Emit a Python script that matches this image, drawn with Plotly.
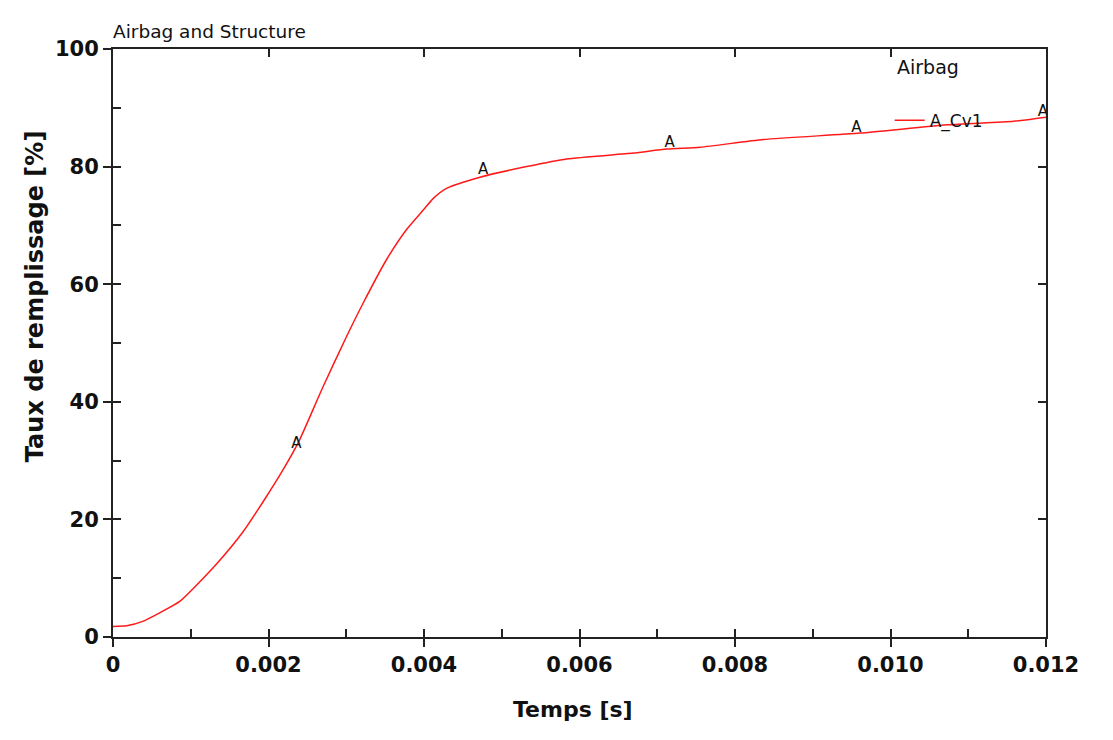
import plotly.graph_objects as go

# ---- data ----
time_s = [0, 0.000176, 0.000382, 0.000600, 0.000858, 0.001073, 0.001331, 0.001673,
          0.001974, 0.002188, 0.002381, 0.002703, 0.003004, 0.003218, 0.003519,
          0.003776, 0.00399, 0.00412, 0.00429, 0.00472, 0.00532, 0.005835,
          0.006692, 0.007122, 0.007551, 0.008366, 0.00961, 0.010726, 0.011583, 0.012]
fill_pct = [1.8, 1.9, 2.65, 4.1, 6.05, 8.8, 12.4, 17.9,
            23.9, 28.45, 33.0, 42.6, 51.1, 56.8, 64.2,
            69.3, 72.6, 74.6, 76.3, 78.2, 80.0, 81.3,
            82.3, 83.0, 83.3, 84.6, 85.7, 87.1, 87.7, 88.4]

label_x = [0.00236, 0.00476, 0.00716, 0.00956, 0.01196]
label_y = [32.7, 79.4, 84.0, 86.6, 89.3]
label_txt = ["A", "A", "A", "A", "A"]

x_ticks = [0, 0.002, 0.004, 0.006, 0.008, 0.010, 0.012]
x_ticktext = ["0", "0.002", "0.004", "0.006", "0.008", "0.010", "0.012"]
y_ticks = [0, 20, 40, 60, 80, 100]
y_ticktext = ["0", "20", "40", "60", "80", "100"]

title_text = "Airbag and Structure"
legend_head = "Airbag"
curve_name = "A_Cv1"
x_title = "Temps [s]"
y_title = "Taux de remplissage [%]"

x_range = [0, 0.012]
y_range = [0, 100]

INK = "#111111"
AX = "#222222"
FONT = "DejaVu Sans"

fig = go.Figure()
fig.add_trace(go.Scatter(x=time_s, y=fill_pct, mode="lines", name=curve_name,
                         line=dict(color="#ff1a1a", width=1.5, shape="spline",
                                   smoothing=0.6),
                         showlegend=True))
fig.add_trace(go.Scatter(x=label_x, y=label_y, mode="text", text=label_txt,
                         textposition="middle center",
                         textfont=dict(family=FONT, size=15, color=INK),
                         showlegend=False, hoverinfo="skip"))

common_x = dict(range=x_range, showgrid=False, zeroline=False)
common_y = dict(range=y_range, showgrid=False, zeroline=False)
tick_font = dict(family=FONT, size=21, color=INK, weight="bold")

W, H = 1105, 732  # page body margin of 8px takes the rest of the 1113x740 window

fig.update_layout(
    width=W, height=H,
    margin=dict(l=105, r=67, t=41, b=103),
    paper_bgcolor="white",
    plot_bgcolor="white",
    title=dict(text=title_text, x=0, xref="paper", xanchor="left",
               y=1 - 24 / H, yref="container", yanchor="middle",
               font=dict(family=FONT, size=18.5, color=INK)),
    xaxis=dict(**common_x, tickvals=x_ticks, ticktext=x_ticktext,
               ticks="outside", ticklen=8, tickwidth=1.5, tickcolor=AX,
               showline=True, linecolor=AX, linewidth=2, mirror=True,
               tickfont=tick_font),
    xaxis2=dict(**common_x, overlaying="x", anchor="y", side="bottom",
                dtick=0.001, tick0=0, ticks="inside", ticklen=8, tickwidth=1.5,
                tickcolor=AX, showticklabels=False, showline=False),
    xaxis3=dict(**common_x, overlaying="x", anchor="y", side="top",
                dtick=0.002, tick0=0, ticks="inside", ticklen=8, tickwidth=1.5,
                tickcolor=AX, showticklabels=False, showline=False),
    yaxis=dict(**common_y, tickvals=y_ticks, ticktext=y_ticktext,
               ticks="outside", ticklen=8, tickwidth=1.5, tickcolor=AX,
               showline=True, linecolor=AX, linewidth=2, mirror=True,
               tickfont=tick_font),
    yaxis2=dict(**common_y, overlaying="y", anchor="x", side="left",
                dtick=10, tick0=0, ticks="inside", ticklen=8, tickwidth=1.5,
                tickcolor=AX, showticklabels=False, showline=False),
    yaxis3=dict(**common_y, overlaying="y", anchor="x", side="right",
                dtick=20, tick0=0, ticks="inside", ticklen=8, tickwidth=1.5,
                tickcolor=AX, showticklabels=False, showline=False),
    legend=dict(x=0.8325, xanchor="left", y=0.878, yanchor="middle",
                bgcolor="rgba(0,0,0,0)", borderwidth=0,
                font=dict(family=FONT, size=17, color=INK)),
    annotations=[
        dict(text=legend_head, xref="paper", yref="paper", x=0.8383, y=0.970,
             xanchor="left", yanchor="middle", showarrow=False,
             font=dict(family=FONT, size=19, color=INK)),
        dict(text="<b>" + x_title + "</b>", xref="paper", yref="paper",
             x=0.4928, y=-0.1237, xanchor="center", yanchor="middle",
             showarrow=False, font=dict(family=FONT, size=22, color=INK)),
        dict(text="<b>" + y_title + "</b>", xref="paper", yref="paper",
             x=-0.084, y=0.579, xanchor="center", yanchor="middle",
             textangle=-90, showarrow=False,
             font=dict(family=FONT, size=24, color=INK)),
    ],
)

# invisible traces so the overlay tick axes are drawn
fig.add_trace(go.Scatter(x=[None], y=[None], xaxis="x2", yaxis="y2",
                         showlegend=False, hoverinfo="skip"))
fig.add_trace(go.Scatter(x=[None], y=[None], xaxis="x3", yaxis="y3",
                         showlegend=False, hoverinfo="skip"))

fig.write_html("out.html")
